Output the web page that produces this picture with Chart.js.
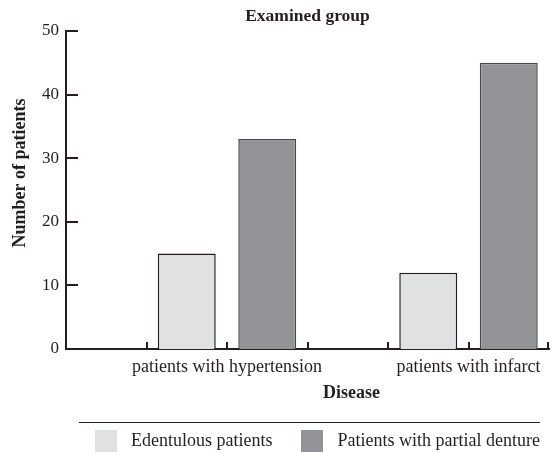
<!DOCTYPE html>
<html><head><meta charset="utf-8">
<script src="https://cdn.jsdelivr.net/npm/chart.js@4"></script>
<style>html,body{margin:0;padding:0;background:#fff}#wrap{width:552px;height:453px}</style>
</head><body><div id="wrap"><canvas id="c"></canvas></div>
<script>
const categories = ['patients with hypertension', 'patients with infarct'];
const seriesNames = ['Edentulous patients', 'Patients with partial denture'];
const edentulous = [15, 12];
const partialDenture = [33, 45];
const yTickValues = [0, 10, 20, 30, 40, 50];

const FONT = '"Liberation Serif", "Times New Roman", serif';
const INK = '#231f20';
const LIGHT = '#e0e1e3';
const DARK = '#939497';

function swatch(color) {
  const c = document.createElement('canvas');
  c.width = 22; c.height = 22;
  const g = c.getContext('2d');
  g.fillStyle = color; g.fillRect(0, 0, 22, 22);
  return c;
}

function shiftTitle(scale, dx, dy) {
  if (!scale || scale._shifted) return;
  const orig = scale.drawTitle.bind(scale);
  scale.drawTitle = function () {
    const c = this.ctx; c.save(); c.translate(dx, dy); orig(); c.restore();
  };
  scale._shifted = true;
}

const decorations = {
  id: 'decorations',
  afterLayout(chart) {
    const lg = chart.legend;
    lg.left = chart.chartArea.left;
    lg.right = chart.width + 200;
  },
  beforeDraw(chart) {
    shiftTitle(chart.scales.y, 0, -17);
    shiftTitle(chart.scales.x, 44, 0);
  },
  afterDraw(chart) {
    const ctx = chart.ctx, ca = chart.chartArea;
    const x = chart.scales.x, y = chart.scales.y;
    ctx.save();
    ctx.strokeStyle = INK;
    ctx.lineWidth = 2;
    yTickValues.forEach(v => {
      const py = Math.round(y.getPixelForValue(v));
      ctx.beginPath(); ctx.moveTo(ca.left, py); ctx.lineTo(ca.left + 12, py); ctx.stroke();
    });
    const catW = x.getPixelForValue(1) - x.getPixelForValue(0);
    categories.forEach((c, i) => {
      const left = x.getPixelForValue(i) - catW / 2;
      for (let k = 1; k <= 3; k++) {
        const px = Math.round(left + catW * k / 3) - (k === 3 && i === categories.length - 1 ? 1 : 0);
        ctx.beginPath(); ctx.moveTo(px, ca.bottom); ctx.lineTo(px, ca.bottom - 7); ctx.stroke();
      }
    });
    const lg = chart.legend;
    ctx.strokeStyle = INK;
    ctx.lineWidth = 1;
    const ly = Math.round(lg.top + 14) + 0.5;
    ctx.beginPath(); ctx.moveTo(79, ly); ctx.lineTo(540, ly); ctx.stroke();
    ctx.restore();
  }
};

new Chart(document.getElementById('c'), {
  type: 'bar',
  data: {
    labels: categories,
    datasets: [
      { label: '', data: categories.map(() => null) },
      { label: seriesNames[0], data: edentulous, backgroundColor: LIGHT, borderColor: INK, borderWidth: 1.5 },
      { label: seriesNames[1], data: partialDenture, backgroundColor: DARK, borderColor: '#48484a', borderWidth: 1.5 }
    ]
  },
  options: {
    responsive: true,
    maintainAspectRatio: false,
    animation: false,
    categoryPercentage: 1,
    barPercentage: 0.72,
    layout: { padding: { left: 0, right: 3, top: 0, bottom: -7 } },
    plugins: {
      title: { display: true, fullSize: false, text: 'Examined group', color: INK, font: { family: FONT, size: 17.5, weight: 'bold' }, padding: { top: 6, bottom: 4 } },
      tooltip: { enabled: false },
      legend: {
        position: 'bottom',
        align: 'start',
        labels: {
          color: INK, font: { family: FONT, size: 18 }, usePointStyle: true, pointStyleWidth: 32, padding: 24,
          generateLabels: (chart) => Chart.defaults.plugins.legend.labels.generateLabels(chart)
            .filter(l => l.text !== '')
            .map(l => Object.assign(l, { lineWidth: 0, pointStyle: swatch(l.fillStyle) }))
        }
      }
    },
    scales: {
      x: {
        grid: { display: false, drawTicks: false },
        border: { color: INK, width: 2 },
        ticks: { color: INK, font: { family: FONT, size: 18 }, padding: 7, labelOffset: 40.25, maxRotation: 0, autoSkip: false },
        title: { display: true, text: 'Disease', color: INK, font: { family: FONT, size: 18, weight: 'bold' }, padding: { top: 4, bottom: 4 } },
        afterFit: s => { s.height = 59; }
      },
      y: {
        min: 0, max: 50,
        grid: { display: false, drawTicks: false },
        border: { color: INK, width: 2 },
        ticks: { stepSize: 10, color: INK, font: { family: FONT, size: 17 }, padding: 7 },
        title: { display: true, text: 'Number of patients', color: INK, font: { family: FONT, size: 18, weight: 'bold' }, padding: { top: 9.5, bottom: 0 } },
        afterFit: s => { s.width = 66; }
      }
    }
  },
  plugins: [decorations]
});
</script>
</body></html>
